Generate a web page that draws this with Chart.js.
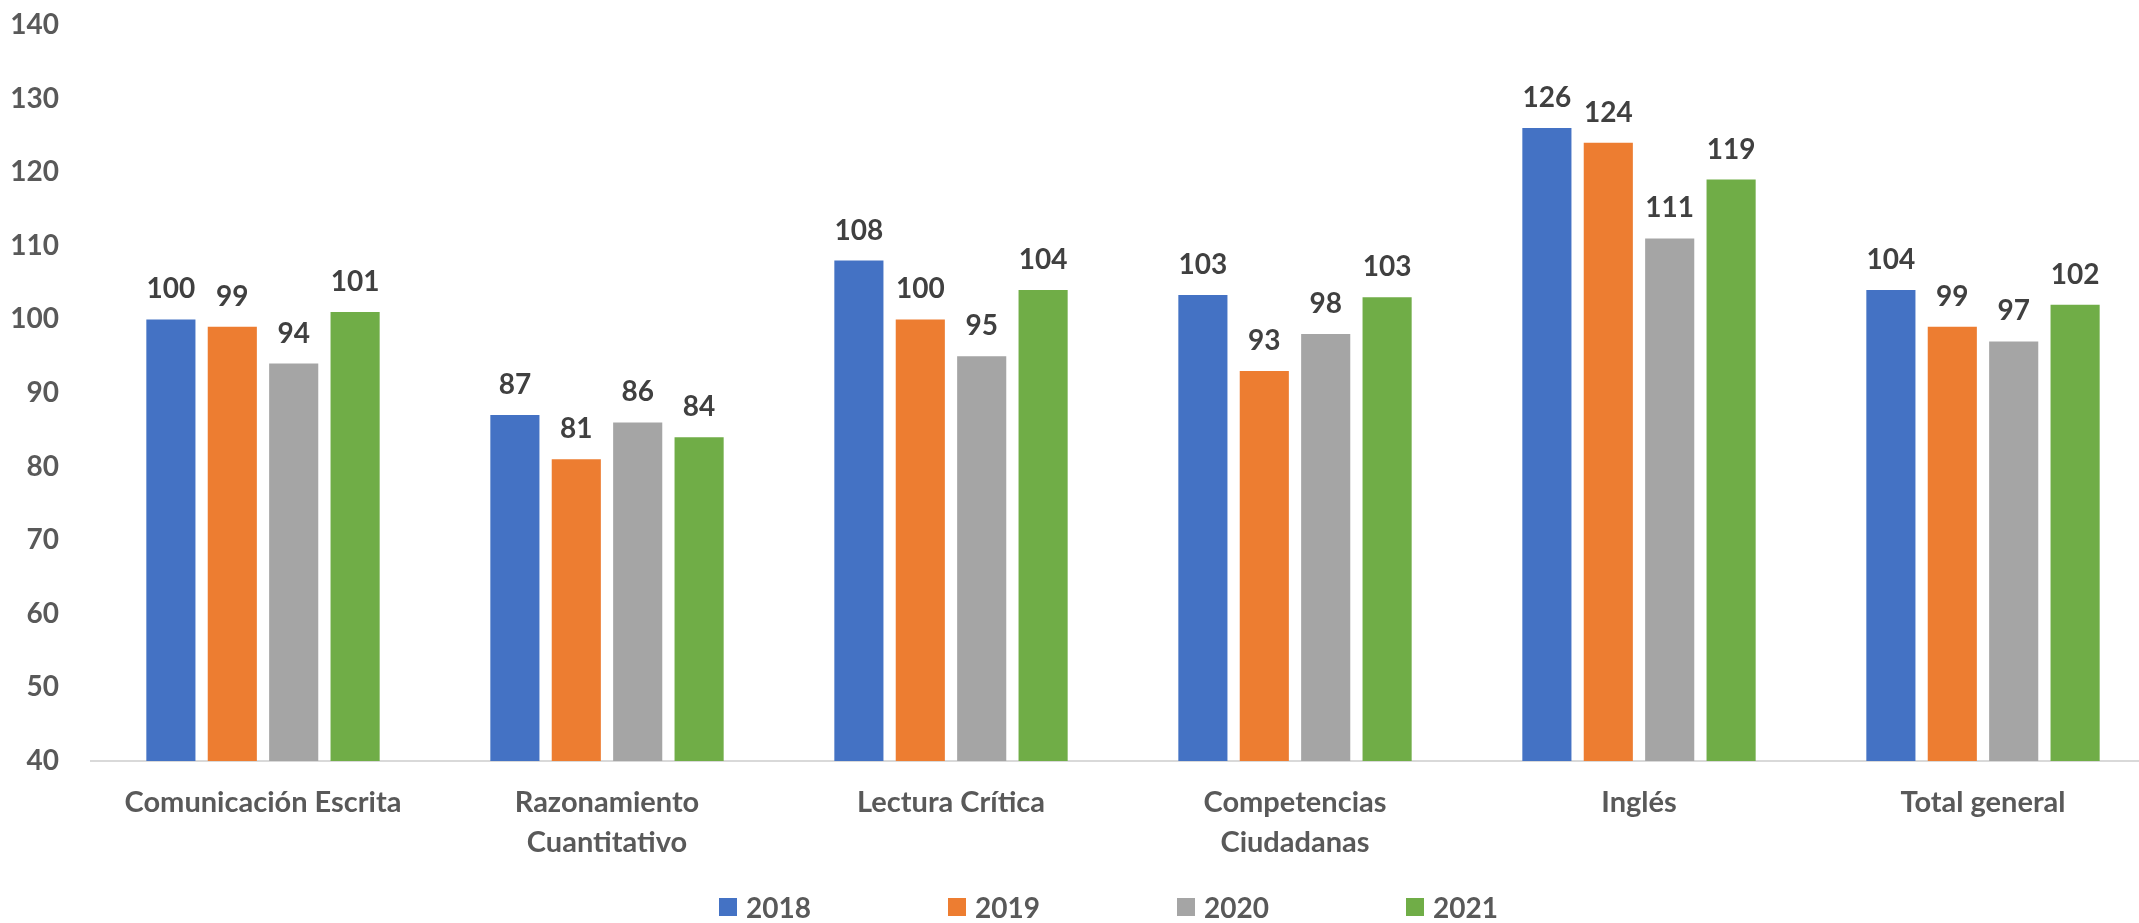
<!DOCTYPE html>
<html lang="es">
<head>
<meta charset="utf-8">
<title>Resultados por competencia</title>
<script src="https://cdn.jsdelivr.net/npm/chart.js@4/dist/chart.umd.min.js"></script>
<style>
  html, body { margin: 0; padding: 0; background: #ffffff; overflow: hidden; }
  #wrap { position: relative; width: 2139px; height: 923px; overflow: hidden; }
  #leyenda {
    position: absolute;
    left: 719px;
    top: 889px;
    display: flex;
    font-family: Lato, "Open Sans", sans-serif;
    font-weight: 700;
    font-size: 28px;
    color: #595959;
  }
  #leyenda .item { display: flex; align-items: center; width: 229px; line-height: 36px; }
  #leyenda .caja { width: 18px; height: 18px; margin-right: 9px; }
</style>
</head>
<body>
<div id="wrap">
  <canvas id="graficoBarras" width="2160" height="923"></canvas>
  <div id="leyenda"></div>
</div>
<script>
const categorias = [
  "Comunicación Escrita",
  ["Razonamiento", "Cuantitativo"],
  "Lectura Crítica",
  ["Competencias", "Ciudadanas"],
  "Inglés",
  "Total general",
];
const anios = ["2018", "2019", "2020", "2021"];
const valores2018 = [100, 87, 108, 103.3, 126, 104];
const valores2019 = [99, 81, 100, 93, 124, 99];
const valores2020 = [94, 86, 95, 98, 111, 97];
const valores2021 = [101, 84, 104, 103, 119, 102];
const ticksY = [40, 50, 60, 70, 80, 90, 100, 110, 120, 130, 140];

const colores = ["#4472C4", "#ED7D31", "#A5A5A5", "#70AD47"];
const series = [valores2018, valores2019, valores2020, valores2021];
const fuente = "Lato, 'Open Sans', sans-serif";

// etiquetas de valor encima de cada barra
const etiquetasValor = {
  id: "etiquetasValor",
  afterDatasetsDraw(chart) {
    const ctx = chart.ctx;
    ctx.save();
    ctx.font = "700 28px " + fuente;
    ctx.fillStyle = "#404040";
    ctx.textAlign = "center";
    ctx.textBaseline = "middle";
    chart.data.datasets.forEach((ds, i) => {
      chart.getDatasetMeta(i).data.forEach((bar, j) => {
        ctx.fillText(Math.round(ds.data[j]), bar.x, bar.y - 30);
      });
    });
    ctx.restore();
  },
};

const barGraphic = document.getElementById("graficoBarras").getContext("2d");

const grafico = new Chart(barGraphic, {
  type: "bar",
  data: {
    labels: categorias,
    datasets: anios.map((anio, i) => ({
      label: anio,
      data: series[i],
      backgroundColor: colores[i],
      borderWidth: 0,
      categoryPercentage: 0.714,
      barPercentage: 0.8,
    })),
  },
  options: {
    responsive: false,
    animation: false,
    layout: {
      padding: { top: 25, bottom: 38, left: 11, right: 5 },
    },
    plugins: {
      legend: { display: false },
      tooltip: { enabled: false },
    },
    scales: {
      x: {
        grid: { display: true, drawOnChartArea: false, drawTicks: false },
        border: { display: true, color: "#D9D9D9", width: 2 },
        afterFit(scale) {
          scale.paddingLeft = 0;
          scale.paddingRight = 0;
        },
        ticks: {
          color: "#595959",
          padding: 22,
          maxRotation: 0,
          autoSkip: false,
          font: { family: fuente, size: 29, weight: 700, lineHeight: 1.38 },
        },
      },
      y: {
        min: ticksY[0],
        max: ticksY[ticksY.length - 1],
        grid: { display: false, drawTicks: false },
        border: { display: false },
        afterBuildTicks(scale) {
          scale.ticks = ticksY.map((v) => ({ value: v }));
        },
        afterFit(scale) {
          scale.width = 80;
          scale.paddingTop = 0;
          scale.paddingBottom = 0;
        },
        ticks: {
          color: "#595959",
          padding: 32,
          font: { family: fuente, size: 28, weight: 700 },
        },
      },
    },
  },
  plugins: [etiquetasValor],
});

// leyenda en HTML
const leyenda = document.getElementById("leyenda");
grafico.data.datasets.forEach((ds) => {
  const item = document.createElement("div");
  item.className = "item";
  const caja = document.createElement("span");
  caja.className = "caja";
  caja.style.background = ds.backgroundColor;
  const texto = document.createElement("span");
  texto.textContent = ds.label;
  item.appendChild(caja);
  item.appendChild(texto);
  leyenda.appendChild(item);
});
</script>
</body>
</html>
